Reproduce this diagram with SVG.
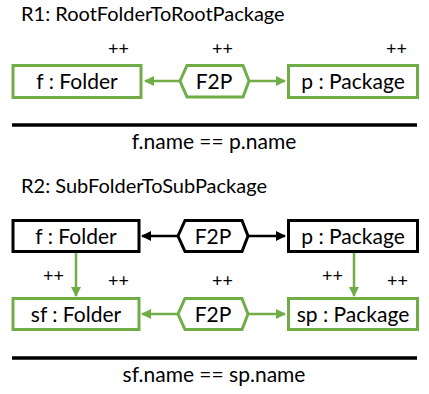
<svg xmlns="http://www.w3.org/2000/svg" width="429" height="394" viewBox="0 0 429 394">
<defs>
<style>
text{font-family:Lato,"Open Sans","Liberation Sans",sans-serif;fill:#000}
.t{font-size:20px}
.n{font-size:21px;text-anchor:middle}
.p{font-size:18px}
.g{fill:#fff;stroke:#70AD47;stroke-width:3}
.b{fill:#fff;stroke:#000;stroke-width:3}
.gl{stroke:#70AD47;stroke-width:2.5;fill:none}
.bl{stroke:#000;stroke-width:2.5;fill:none}
.rule{stroke:#000;stroke-width:3.5}
</style>
<marker id="ag" viewBox="0 0 10 10" refX="9" refY="5" markerWidth="4" markerHeight="4" orient="auto"><path d="M0,0 L10,5 L0,10 z" fill="#70AD47"/></marker>
<marker id="ab" viewBox="0 0 10 10" refX="9" refY="5" markerWidth="4" markerHeight="4" orient="auto"><path d="M0,0 L10,5 L0,10 z" fill="#000"/></marker>
</defs>
<rect width="429" height="394" fill="#fff"/>

<text class="t" x="21" y="21">R1: RootFolderToRootPackage</text>
<g id="connectors">
<line class="gl" x1="180" y1="81" x2="145" y2="81" marker-end="url(#ag)"/>
<line class="gl" x1="249" y1="81" x2="285" y2="81" marker-end="url(#ag)"/>
<line class="bl" x1="178" y1="236" x2="142" y2="236" marker-end="url(#ab)"/>
<line class="bl" x1="248" y1="236" x2="285" y2="236" marker-end="url(#ab)"/>
<line class="gl" x1="178" y1="314" x2="142" y2="314" marker-end="url(#ag)"/>
<line class="gl" x1="248" y1="314" x2="285" y2="314" marker-end="url(#ag)"/>
<line class="gl" x1="76" y1="252" x2="76" y2="296" marker-end="url(#ag)"/>
<line class="gl" x1="354" y1="252" x2="354" y2="296" marker-end="url(#ag)"/>
</g>

<g id="r1_f">
<rect class="g" x="13" y="65.5" width="128" height="32"/>
<text class="n" x="77" y="89">f : Folder</text>
<text class="p" x="108" y="55">++</text>
</g>
<g id="r1_f2p">
<path class="g" d="M180,81 L187,65.5 L243,65.5 L249,81 L243,97 L187,97 Z"/>
<text class="n" x="214" y="89">F2P</text>
<text class="p" x="212" y="55">++</text>
</g>
<g id="r1_p">
<rect class="g" x="288.5" y="65.5" width="129" height="32"/>
<text class="n" x="353" y="89">p : Package</text>
<text class="p" x="386" y="55">++</text>
</g>
<line class="rule" x1="12" y1="125" x2="417" y2="125"/>
<text class="n" x="214" y="149">f.name == p.name</text>

<text class="t" x="21" y="193">R2: SubFolderToSubPackage</text>
<g id="r2_f">
<rect class="b" x="13" y="220.5" width="126" height="31"/>
<text class="n" x="76" y="244">f : Folder</text>
</g>
<g id="r2_f2p">
<path class="b" d="M178,236 L185,220.5 L242,220.5 L248,236 L242,251.5 L185,251.5 Z"/>
<text class="n" x="213" y="244">F2P</text>
</g>
<g id="r2_p">
<rect class="b" x="288.5" y="220.5" width="129" height="31"/>
<text class="n" x="353" y="244">p : Package</text>
</g>
<g id="r2_sf">
<rect class="g" x="13" y="298.5" width="126" height="31"/>
<text class="n" x="76" y="322">sf : Folder</text>
<text class="p" x="43" y="282">++</text>
<text class="p" x="108" y="287">++</text>
</g>
<g id="r2_f2p2">
<path class="g" d="M178,314 L185,298.5 L242,298.5 L248,314 L242,329.5 L185,329.5 Z"/>
<text class="n" x="213" y="322">F2P</text>
<text class="p" x="212" y="287">++</text>
</g>
<g id="r2_sp">
<rect class="g" x="288.5" y="298.5" width="129" height="31"/>
<text class="n" x="353" y="322">sp : Package</text>
<text class="p" x="322" y="282">++</text>
<text class="p" x="387" y="287">++</text>
</g>
<line class="rule" x1="12" y1="358" x2="417" y2="358"/>
<text class="n" x="214" y="382">sf.name == sp.name</text>
</svg>
